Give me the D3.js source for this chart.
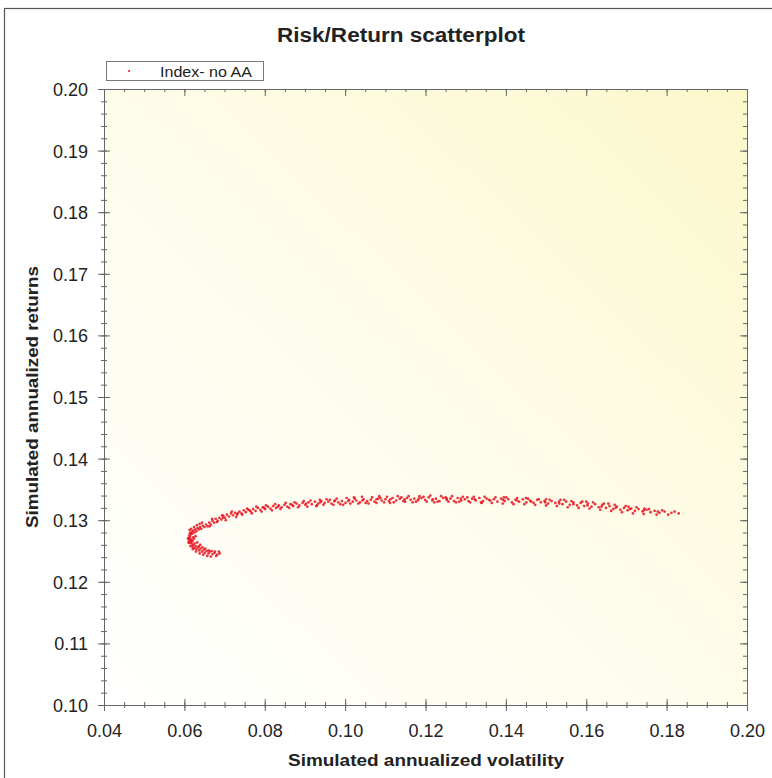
<!DOCTYPE html>
<html>
<head>
<meta charset="utf-8">
<script src="https://cdn.jsdelivr.net/npm/d3@7"></script>
<style>
  body { margin: 0; background: #fff; }
  text { font-family: "Liberation Sans", Arial, sans-serif; fill: #222; }
</style>
</head>
<body>
<svg id="chart" width="772" height="778"></svg>
<script>
// Tick labels
var xMajor = [0.04, 0.06, 0.08, 0.10, 0.12, 0.14, 0.16, 0.18, 0.20];
var yMajor = [0.10, 0.11, 0.12, 0.13, 0.14, 0.15, 0.16, 0.17, 0.18, 0.19, 0.20];

var seriesName = "Index- no AA";

// [volatility, return] pairs, read from the scatter cloud
// nose + lower branch
var nosePoints = [
  [0.0688,0.1246],[0.0682,0.1244],[0.0675,0.1247],[0.0670,0.1245],[0.0664,0.1249],[0.0660,0.1246],
  [0.0655,0.1250],[0.0651,0.1247],[0.0648,0.1252],[0.0644,0.1249],[0.0640,0.1254],[0.0637,0.1251],
  [0.0634,0.1256],[0.0630,0.1253],[0.0628,0.1258],[0.0625,0.1255],[0.0622,0.1260],[0.0620,0.1257],
  [0.0618,0.1262],[0.0616,0.1265],[0.0613,0.1263],[0.0612,0.1267],[0.0615,0.1269],[0.0611,0.1271],
  [0.0614,0.1273],[0.0612,0.1275],[0.0616,0.1277],[0.0614,0.1279],[0.0618,0.1281],[0.0620,0.1278],
  [0.0622,0.1283],[0.0625,0.1280],[0.0627,0.1285],[0.0630,0.1282],[0.0633,0.1287],[0.0636,0.1285],
  [0.0639,0.1289],[0.0642,0.1286],[0.0646,0.1291],[0.0650,0.1289],
  [0.0620,0.1266],[0.0624,0.1270],[0.0628,0.1274],[0.0622,0.1272],[0.0632,0.1264],[0.0640,0.1260],
  [0.0645,0.1256],[0.0652,0.1254],[0.0660,0.1251],[0.0668,0.1250],[0.0676,0.1249],[0.0618,0.1268],
  [0.0626,0.1262],[0.0636,0.1258],
  [0.0610,0.1264],[0.0609,0.1270],[0.0613,0.1284],[0.0617,0.1286],[0.0624,0.1289],[0.0631,0.1292],
  [0.0638,0.1294],[0.0644,0.1296],[0.0615,0.1258],[0.0621,0.1253],[0.0629,0.1249],[0.0638,0.1246],
  [0.0647,0.1244],[0.0657,0.1242],[0.0666,0.1241],[0.0679,0.1242],[0.0686,0.1249]
];
// rising upper branch
var risePoints = [
  [0.0654,0.1293],[0.0658,0.1290],[0.0662,0.1296],[0.0666,0.1293],[0.0670,0.1299],[0.0674,0.1296],
  [0.0678,0.1302],[0.0683,0.1299],[0.0687,0.1304],[0.0692,0.1301],[0.0697,0.1307],[0.0701,0.1304],
  [0.0706,0.1309],[0.0711,0.1306],[0.0716,0.1311],[0.0721,0.1308],[0.0726,0.1312],[0.0731,0.1309],
  [0.0737,0.1314],[0.0742,0.1311],[0.0748,0.1316],[0.0753,0.1313],[0.0759,0.1317],[0.0765,0.1314],
  [0.0771,0.1318],[0.0777,0.1315],[0.0783,0.1320],[0.0789,0.1317],[0.0795,0.1321],[0.0801,0.1318],
  [0.0808,0.1322],[0.0814,0.1319],[0.0821,0.1323],[0.0828,0.1320],[0.0835,0.1324],[0.0842,0.1321],
  [0.0849,0.1325],[0.0856,0.1322],[0.0864,0.1326],[0.0871,0.1323],[0.0879,0.1327],[0.0886,0.1324],
  [0.0894,0.1328],[0.0901,0.1325],
  [0.0663,0.1290],[0.0669,0.1302],[0.0681,0.1297],[0.0694,0.1308],[0.0703,0.1300],[0.0718,0.1314],
  [0.0729,0.1305],[0.0744,0.1309],[0.0756,0.1319],[0.0768,0.1311],[0.0779,0.1322],[0.0792,0.1314],
  [0.0803,0.1324],[0.0818,0.1316],[0.0826,0.1326],[0.0839,0.1318],[0.0852,0.1328],[0.0861,0.1320],
  [0.0874,0.1329],[0.0883,0.1321],[0.0897,0.1331],
  [0.0696,0.1304],[0.0733,0.1311],[0.0762,0.1316],[0.0798,0.1320],[0.0833,0.1322],[0.0868,0.1325]
];
// flat top
var topPoints = [
  [0.0909,0.1329],[0.0917,0.1326],[0.0925,0.1330],[0.0933,0.1327],[0.0941,0.1331],[0.0949,0.1328],
  [0.0958,0.1330],[0.0966,0.1327],[0.0975,0.1332],[0.0983,0.1329],[0.0992,0.1331],[0.1001,0.1328],
  [0.1010,0.1333],[0.1019,0.1330],[0.1028,0.1332],[0.1037,0.1329],[0.1046,0.1334],[0.1055,0.1331],
  [0.1064,0.1333],[0.1073,0.1330],[0.1082,0.1335],[0.1091,0.1332],[0.1100,0.1334],[0.1109,0.1331],
  [0.1118,0.1336],[0.1127,0.1332],[0.1136,0.1335],[0.1145,0.1331],[0.1154,0.1336],[0.1163,0.1333],
  [0.1172,0.1335],[0.1181,0.1332],[0.1190,0.1336],[0.1199,0.1333],[0.1208,0.1337],[0.1217,0.1332],
  [0.1226,0.1335],[0.1235,0.1331],[0.1244,0.1336],[0.1253,0.1333],[0.1262,0.1335],[0.1271,0.1331],
  [0.1280,0.1336],[0.1289,0.1332],[0.1298,0.1334],
  [0.0930,0.1324],[0.0962,0.1333],[0.0995,0.1325],[0.1024,0.1335],[0.1058,0.1327],[0.1088,0.1336],
  [0.1112,0.1328],[0.1140,0.1337],[0.1168,0.1329],[0.1195,0.1338],[0.1222,0.1329],[0.1250,0.1337],
  [0.1276,0.1329],[0.1304,0.1337],
  [0.0906,0.1322],[0.0914,0.1332],[0.0928,0.1323],[0.0937,0.1333],[0.0946,0.1325],[0.0954,0.1334],
  [0.0971,0.1325],[0.0979,0.1335],[0.0988,0.1326],[0.1004,0.1336],[0.1013,0.1327],[0.1022,0.1337],
  [0.1033,0.1327],[0.1042,0.1338],[0.1051,0.1328],[0.1067,0.1337],[0.1078,0.1328],[0.1085,0.1339],
  [0.1097,0.1329],[0.1104,0.1338],[0.1121,0.1329],[0.1131,0.1339],[0.1149,0.1330],[0.1158,0.1339],
  [0.1176,0.1330],[0.1185,0.1339],[0.1203,0.1330],[0.1212,0.1340],[0.1230,0.1330],[0.1239,0.1339],
  [0.1257,0.1330],[0.1266,0.1339],[0.1284,0.1330],[0.1293,0.1338],
  [0.0903,0.1327],[0.0938,0.1329],[0.0973,0.1331],[0.1008,0.1331],[0.1043,0.1332],[0.1078,0.1334],
  [0.1113,0.1334],[0.1148,0.1334],[0.1183,0.1335],[0.1218,0.1334],[0.1253,0.1335],[0.1288,0.1335]
];
// slowly falling tail
var tailPoints = [
  [0.1307,0.1331],[0.1316,0.1335],[0.1325,0.1332],[0.1334,0.1336],[0.1343,0.1331],[0.1352,0.1335],
  [0.1361,0.1332],[0.1370,0.1334],[0.1379,0.1330],[0.1388,0.1335],[0.1397,0.1331],[0.1406,0.1334],
  [0.1415,0.1329],[0.1424,0.1333],[0.1433,0.1330],[0.1442,0.1334],[0.1451,0.1329],[0.1460,0.1332],
  [0.1469,0.1328],[0.1478,0.1333],[0.1487,0.1329],[0.1496,0.1331],[0.1505,0.1327],[0.1514,0.1331],
  [0.1523,0.1328],[0.1532,0.1330],[0.1541,0.1326],[0.1550,0.1330],[0.1559,0.1325],[0.1568,0.1329],
  [0.1577,0.1324],[0.1586,0.1328],[0.1595,0.1323],[0.1604,0.1327],[0.1613,0.1322],[0.1622,0.1326],
  [0.1631,0.1321],[0.1640,0.1325],[0.1649,0.1320],[0.1658,0.1323],[0.1667,0.1318],[0.1676,0.1322],
  [0.1685,0.1317],[0.1694,0.1320],[0.1703,0.1316],[0.1712,0.1319],[0.1721,0.1315],[0.1730,0.1318],
  [0.1740,0.1314],[0.1750,0.1317],[0.1760,0.1313],[0.1770,0.1315],[0.1782,0.1312],[0.1795,0.1314],
  [0.1812,0.1312],[0.1830,0.1311],
  [0.1340,0.1328],[0.1395,0.1337],[0.1450,0.1336],[0.1500,0.1334],[0.1545,0.1333],[0.1600,0.1330],
  [0.1655,0.1327],[0.1705,0.1322],[0.1745,0.1319],
  [0.1311,0.1329],[0.1320,0.1338],[0.1338,0.1329],[0.1347,0.1338],[0.1365,0.1328],[0.1374,0.1337],
  [0.1392,0.1327],[0.1401,0.1337],[0.1419,0.1326],[0.1428,0.1336],[0.1446,0.1326],[0.1455,0.1335],
  [0.1473,0.1325],[0.1482,0.1334],[0.1500,0.1324],[0.1509,0.1333],[0.1527,0.1323],[0.1536,0.1333],
  [0.1554,0.1321],[0.1563,0.1331],[0.1581,0.1320],[0.1590,0.1330],[0.1608,0.1319],[0.1617,0.1329],
  [0.1635,0.1317],[0.1644,0.1327],[0.1662,0.1315],[0.1671,0.1325],[0.1689,0.1313],[0.1698,0.1323],
  [0.1716,0.1311],[0.1725,0.1321],[0.1743,0.1310],[0.1756,0.1318],[0.1775,0.1309],[0.1789,0.1316],
  [0.1804,0.1309],[0.1820,0.1314],
  [0.1323,0.1334],[0.1358,0.1333],[0.1393,0.1333],[0.1428,0.1332],[0.1463,0.1330],[0.1498,0.1329],
  [0.1533,0.1327],[0.1568,0.1326],[0.1603,0.1324],[0.1638,0.1322],[0.1673,0.1320],[0.1708,0.1318],
  [0.1743,0.1316],[0.1778,0.1314]
];

var points = nosePoints.concat(risePoints, topPoints, tailPoints);

var svg = d3.select("#chart");
// plot box in pixels (note: "top" is taken by window.top)
var pL = 104, pR = 747, pT = 89, pB = 705;

var x = d3.scaleLinear().domain([0.04, 0.20]).range([pL, pR]);
var y = d3.scaleLinear().domain([0.10, 0.20]).range([pB, pT]);

// outer frame of the picture
svg.append("rect")
  .attr("x", 4.5).attr("y", 8.5).attr("width", 800).attr("height", 800)
  .attr("fill", "none").attr("stroke", "#555").attr("stroke-width", 1.2);

// plot background: white lower-left fading to pale yellow upper-right
var grad = svg.append("defs").append("linearGradient")
  .attr("id", "bg").attr("x1", 0).attr("y1", 1).attr("x2", 1).attr("y2", 0);
grad.append("stop").attr("offset", "0%").attr("stop-color", "#ffffff");
grad.append("stop").attr("offset", "50%").attr("stop-color", "#fefcea");
grad.append("stop").attr("offset", "100%").attr("stop-color", "#fbf8cc");

svg.append("rect")
  .attr("x", pL).attr("y", pT)
  .attr("width", pR - pL).attr("height", pB - pT)
  .attr("fill", "url(#bg)");

var fmt = d3.format(".2f");
var xMinor = d3.range(0.04, 0.2001, 0.005);
var yMinor = d3.range(0.10, 0.2001, 0.002);

function styleAxis(g) {
  g.selectAll("path.domain").attr("stroke", "#666");
  g.selectAll("line").attr("stroke", "#666");
  g.selectAll("text").style("font-size", "18px").attr("fill", "#222");
}

// bottom: ticks cross the axis line
var gxMinor = svg.append("g").attr("transform", "translate(0," + pB + ")")
  .call(d3.axisBottom(x).tickValues(xMinor).tickSize(3).tickFormat(""));
gxMinor.selectAll("line").attr("y1", -3);
gxMinor.select(".domain").remove();
styleAxis(gxMinor);

var gx = svg.append("g").attr("transform", "translate(0," + pB + ")")
  .call(d3.axisBottom(x).tickValues(xMajor).tickSize(6).tickSizeOuter(0).tickFormat(fmt));
gx.selectAll("line").attr("y1", -6);
gx.selectAll("text").attr("dy", null).attr("y", 32);
styleAxis(gx);

// top: ticks point inward
var gtMinor = svg.append("g").attr("transform", "translate(0," + pT + ")")
  .call(d3.axisTop(x).tickValues(xMinor).tickSize(-3).tickFormat(""));
gtMinor.select(".domain").remove();
styleAxis(gtMinor);
var gt = svg.append("g").attr("transform", "translate(0," + pT + ")")
  .call(d3.axisTop(x).tickValues(xMajor).tickSize(-7).tickSizeOuter(0).tickFormat(""));
styleAxis(gt);

// left: ticks cross the axis line
var gyMinor = svg.append("g").attr("transform", "translate(" + pL + ",0)")
  .call(d3.axisLeft(y).tickValues(yMinor).tickSize(3).tickFormat(""));
gyMinor.selectAll("line").attr("x1", 3);
gyMinor.select(".domain").remove();
styleAxis(gyMinor);

var gy = svg.append("g").attr("transform", "translate(" + pL + ",0)")
  .call(d3.axisLeft(y).tickValues(yMajor).tickSize(6).tickSizeOuter(0).tickFormat(fmt));
gy.selectAll("line").attr("x1", 6);
gy.selectAll("text").attr("x", -16).attr("dy", "0.36em");
styleAxis(gy);

// right: ticks point inward
var grMinor = svg.append("g").attr("transform", "translate(" + pR + ",0)")
  .call(d3.axisRight(y).tickValues(yMinor).tickSize(-4).tickFormat(""));
grMinor.select(".domain").remove();
styleAxis(grMinor);
var gr = svg.append("g").attr("transform", "translate(" + pR + ",0)")
  .call(d3.axisRight(y).tickValues(yMajor).tickSize(-7).tickSizeOuter(0).tickFormat(""));
styleAxis(gr);

// the scatter
svg.append("g").selectAll("circle")
  .data(points)
  .enter().append("circle")
  .attr("cx", function (d) { return x(d[0]); })
  .attr("cy", function (d) { return y(d[1]); })
  .attr("r", 1.35)
  .attr("fill", "#e8101c")
  .attr("fill-opacity", 0.85);

// title
svg.append("text")
  .attr("x", 401).attr("y", 42)
  .attr("text-anchor", "middle")
  .attr("textLength", 248).attr("lengthAdjust", "spacingAndGlyphs")
  .style("font-size", "20px").style("font-weight", "bold")
  .text("Risk/Return scatterplot");

// axis titles
svg.append("text")
  .attr("x", 426).attr("y", 766)
  .attr("text-anchor", "middle")
  .attr("textLength", 276).attr("lengthAdjust", "spacingAndGlyphs")
  .style("font-size", "17px").style("font-weight", "bold")
  .text("Simulated annualized volatility");

svg.append("text")
  .attr("transform", "translate(38,397) rotate(-90)")
  .attr("text-anchor", "middle")
  .attr("textLength", 262).attr("lengthAdjust", "spacingAndGlyphs")
  .style("font-size", "17px").style("font-weight", "bold")
  .text("Simulated annualized returns");

// legend
var legend = svg.append("g");
legend.append("rect")
  .attr("x", 106.5).attr("y", 61.5).attr("width", 157).attr("height", 19)
  .attr("fill", "#fff").attr("stroke", "#777").attr("stroke-width", 1);
legend.append("circle")
  .attr("cx", 129).attr("cy", 71).attr("r", 1)
  .attr("fill", "#e8101c");
legend.append("text")
  .attr("x", 160).attr("y", 76.5)
  .attr("textLength", 92).attr("lengthAdjust", "spacingAndGlyphs")
  .style("font-size", "15px")
  .text(seriesName);
</script>
</body>
</html>
